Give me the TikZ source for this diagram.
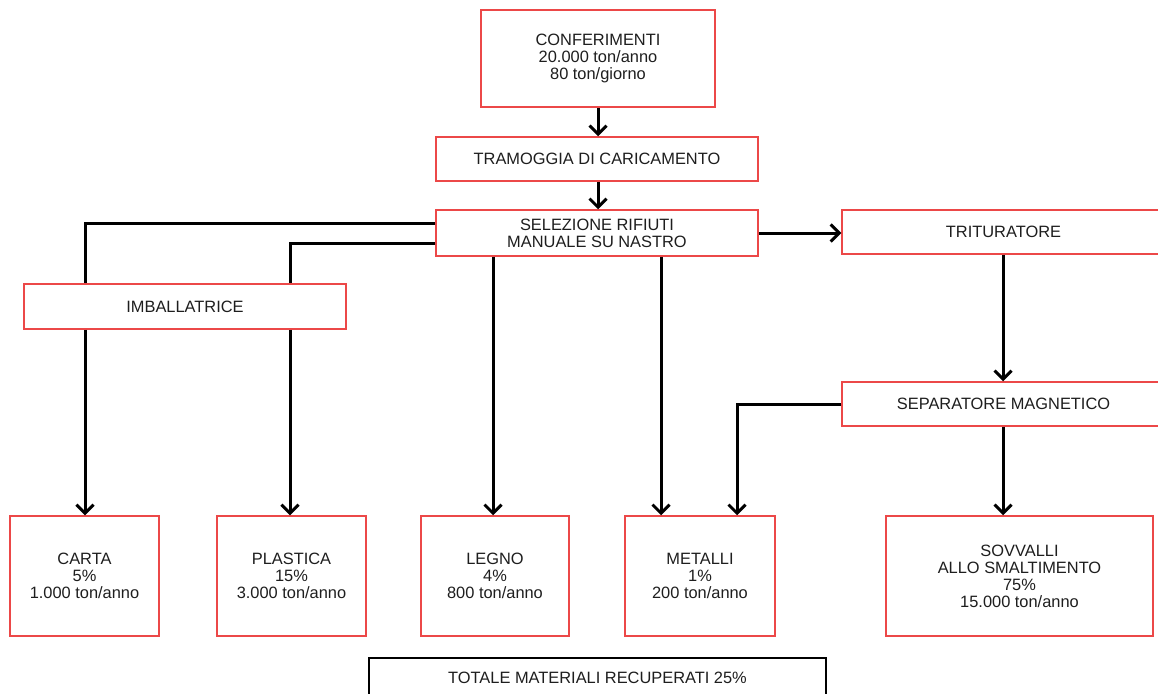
\documentclass[tikz,border=0pt]{standalone}
\usepackage{fontspec}
\setmainfont{Liberation Sans}
\usetikzlibrary{arrows.meta}
\definecolor{boxred}{RGB}{236,72,72}
\definecolor{txt}{RGB}{30,30,30}
\begin{document}
\begin{tikzpicture}[x=1pt,y=-1pt,
  box/.style={draw=boxred,line width=1.5pt,fill=white,inner sep=0pt,align=center,
    text=txt,font=\fontsize{16.4}{17}\selectfont},
  blackbox/.style={box,draw=black},
  conn/.style={line width=3pt,draw=black},
  arr/.style={conn,-{Straight Barb[length=8.5pt,width=17pt,line width=3pt]}}]
\useasboundingbox (0,0) rectangle (1158,693);
\fill[white] (0,0) rectangle (1158,693);
% nodes
\node[box,minimum width=234,minimum height=97] (conf) at (598,58.5) {CONFERIMENTI\\20.000 ton/anno\\80 ton/giorno};
\node[box,minimum width=322,minimum height=44] (tram) at (597,159) {TRAMOGGIA DI CARICAMENTO};
\node[box,minimum width=322,minimum height=46] (sel) at (597,233) {SELEZIONE RIFIUTI\\MANUALE SU NASTRO};
\node[box,minimum width=323,minimum height=44] (trit) at (1003.5,232) {TRITURATORE};
\node[box,minimum width=322,minimum height=45] (imb) at (185,306.5) {IMBALLATRICE};
\node[box,minimum width=323,minimum height=44] (sep) at (1003.5,404) {SEPARATORE MAGNETICO};
\node[box,minimum width=149,minimum height=120] (carta) at (84.5,576) {CARTA\\5\%\\1.000 ton/anno};
\node[box,minimum width=149,minimum height=120] (plas) at (291.5,576) {PLASTICA\\15\%\\3.000 ton/anno};
\node[box,minimum width=148,minimum height=120] (legno) at (495,576) {LEGNO\\4\%\\800 ton/anno};
\node[box,minimum width=150,minimum height=120] (met) at (700,576) {METALLI\\1\%\\200 ton/anno};
\node[box,minimum width=267,minimum height=120] (sov) at (1019.5,576) {SOVVALLI\\ALLO SMALTIMENTO\\75\%\\15.000 ton/anno};
\node[blackbox,minimum width=457,minimum height=44] (tot) at (597.5,680) {\raisebox{5pt}{TOTALE MATERIALI RECUPERATI 25\%}};
% connectors
\draw[arr] (conf.south -| 598,0) -- (tram.north -| 598,0);
\draw[arr] (tram.south -| 598,0) -- (sel.north -| 598,0);
\draw[conn] (sel.west |- 0,223) -| (imb.north -| 85,0);
\draw[arr] (imb.south -| 85,0) -- (carta.north -| 85,0);
\draw[conn] (sel.west |- 0,243) -| (imb.north -| 290,0);
\draw[arr] (imb.south -| 290,0) -- (plas.north -| 290,0);
\draw[arr] (sel.south -| 493,0) -- (legno.north -| 493,0);
\draw[arr] (sel.south -| 661,0) -- (met.north -| 661,0);
\draw[arr] (sel.east |- 0,233) -- (trit.west |- 0,233);
\draw[arr] (trit.south -| 1003,0) -- (sep.north -| 1003,0);
\draw[arr] (sep.west |- 0,404) -| (met.north -| 737,0);
\draw[arr] (sep.south -| 1003,0) -- (sov.north -| 1003,0);
\end{tikzpicture}
\end{document}
